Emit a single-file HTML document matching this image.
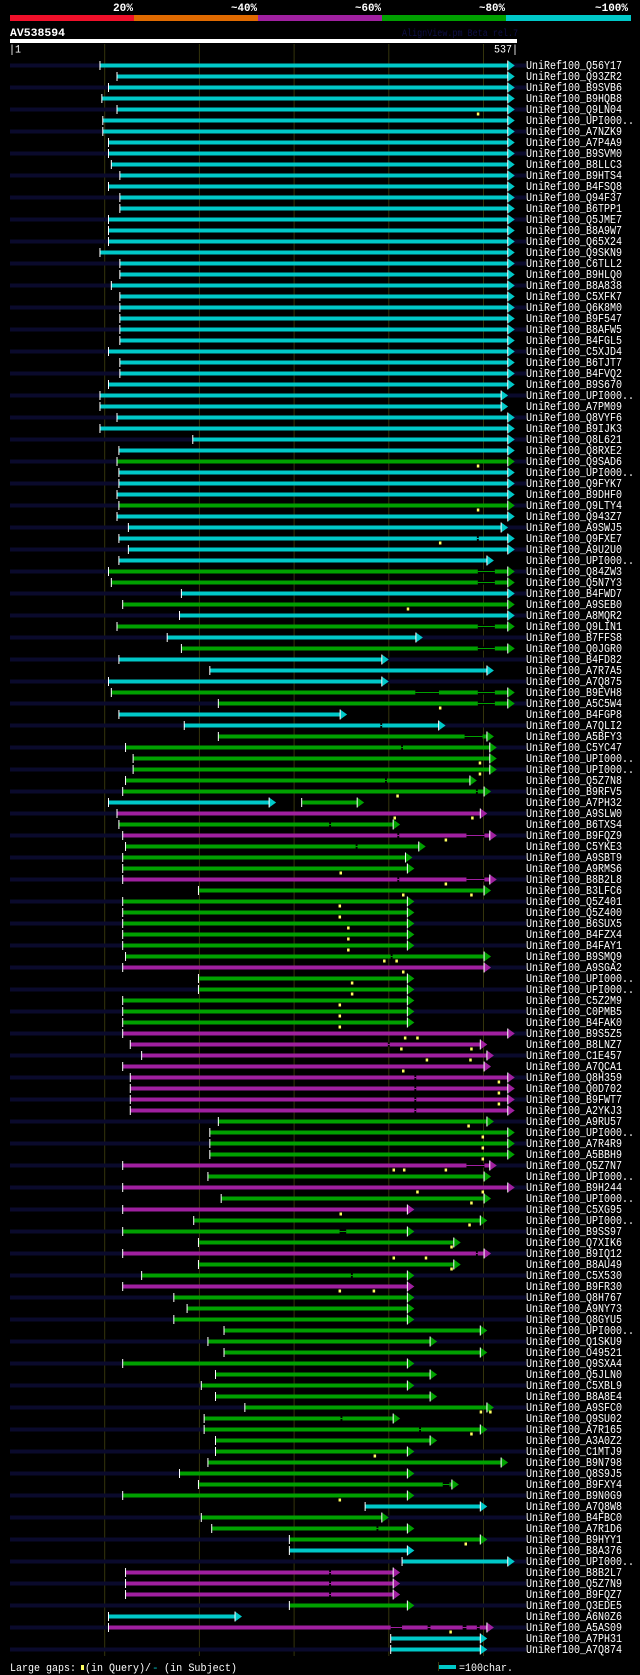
<!DOCTYPE html>
<html><head><meta charset="utf-8"><style>
html,body{margin:0;padding:0;background:#000;}
svg{display:block;}
text{font-family:"Liberation Mono",monospace;fill:#fff;}
</style></head><body>
<svg id="chart" width="640" height="1675" viewBox="0 0 640 1675" xmlns="http://www.w3.org/2000/svg">
<rect x="0" y="0" width="640" height="1675" fill="#000"/>
<g>
<rect x="10" y="15" width="124" height="6" fill="#f0102a"/>
<rect x="134" y="15" width="124" height="6" fill="#e06a00"/>
<rect x="258" y="15" width="124" height="6" fill="#a020a0"/>
<rect x="382" y="15" width="124" height="6" fill="#00a000"/>
<rect x="506" y="15" width="125" height="6" fill="#00c8c8"/>
<text x="113" y="11" font-size="11" font-weight="bold" textLength="20" lengthAdjust="spacingAndGlyphs">20%</text>
<text x="231" y="11" font-size="11" font-weight="bold" textLength="26" lengthAdjust="spacingAndGlyphs">~40%</text>
<text x="355" y="11" font-size="11" font-weight="bold" textLength="26" lengthAdjust="spacingAndGlyphs">~60%</text>
<text x="479" y="11" font-size="11" font-weight="bold" textLength="26" lengthAdjust="spacingAndGlyphs">~80%</text>
<text x="595" y="11" font-size="11" font-weight="bold" textLength="33" lengthAdjust="spacingAndGlyphs">~100%</text>
</g>
<text x="10" y="36" font-size="11" font-weight="bold" textLength="55" lengthAdjust="spacingAndGlyphs">AV538594</text>
<text x="402" y="36" font-size="10" style="fill:#101048" textLength="116" lengthAdjust="spacingAndGlyphs">AlignView.pm Beta rel.7</text>
<rect x="10" y="39" width="507" height="4" fill="#fff"/>
<text x="9" y="52.5" font-size="11" textLength="12" lengthAdjust="spacingAndGlyphs">|1</text>
<text x="494" y="52.5" font-size="11" textLength="24" lengthAdjust="spacingAndGlyphs">537|</text>
<g id="grid"></g>
<g id="rows"></g>
<g>
<text x="10" y="1671" font-size="11" textLength="66" lengthAdjust="spacingAndGlyphs">Large gaps:</text>
<rect x="81" y="1665" width="3" height="5" fill="#ffff60"/>
<text x="85" y="1671" font-size="11" textLength="66" lengthAdjust="spacingAndGlyphs">(in Query)/</text>
<text x="152" y="1671" font-size="11" style="fill:#00c8c8">-</text>
<text x="164" y="1671" font-size="11" textLength="73" lengthAdjust="spacingAndGlyphs">(in Subject)</text>
<rect x="438" y="1662" width="1" height="9" fill="#3a3a10"/>
<rect x="439" y="1665" width="17" height="4" fill="#00c8c8"/>
<text x="459" y="1671" font-size="11" textLength="54" lengthAdjust="spacingAndGlyphs">=100char.</text>
</g>
</svg>
<script>
const gridTicks=[100,200,300,400,500];
const labels=["Q56Y17","Q93ZR2","B9SVB6","B9HQB8","Q9LN04","UPI000..","A7NZK9","A7P4A9","B9SVM0","B8LLC3",
"B9HTS4","B4FSQ8","Q94F37","B6TPP1","Q5JME7","B8A9W7","Q65X24","Q9SKN9","C6TLL2","B9HLQ0",
"B8A838","C5XFK7","Q6K8M0","B9F547","B8AFW5","B4FGL5","C5XJD4","B6TJT7","B4FVQ2","B9S670",
"UPI000..","A7PM09","Q8VYF6","B9IJK3","Q8L621","Q8RXE2","Q9SAD6","UPI000..","Q9FYK7","B9DHF0",
"Q9LTY4","Q943Z7","A9SWJ5","Q9FXE7","A9U2U0","UPI000..","Q84ZW3","Q5N7Y3","B4FWD7","A9SEB0",
"A8MQR2","Q9LIN1","B7FFS8","Q0JGR0","B4FD82","A7R7A5","A7Q875","B9EVH8","A5C5W4","B4FGP8",
"A7QLI2","A5BFY3","C5YC47","UPI000..","UPI000..","Q5Z7N8","B9RFV5","A7PH32","A9SLW0","B6TXS4",
"B9FQZ9","C5YKE3","A9SBT9","A9RMS6","B8B2L8","B3LFC6","Q5Z401","Q5Z400","B6SUX5","B4FZX4",
"B4FAY1","B9SMQ9","A9SGA2","UPI000..","UPI000..","C5Z2M9","C0PMB5","B4FAK0","B9S5Z5","B8LNZ7",
"C1E457","A7QCA1","Q8H359","Q0D702","B9FWT7","A2YKJ3","A9RU57","UPI000..","A7R4R9","A5BBH9",
"Q5Z7N7","UPI000..","B9H244","UPI000..","C5XG95","UPI000..","B9SS97","Q7XIK6","B9IQ12","B8AU49",
"C5X530","B9FR30","Q8H767","A9NY73","Q8GYU5","UPI000..","Q1SKU9","O49521","Q9SXA4","Q5JLN0",
"C5XBL9","B8A8E4","A9SFC0","Q9SU02","A7R165","A3A0Z2","C1MTJ9","B9N798","Q8S9J5","B9FXY4",
"B9N0G9","A7Q8W8","B4FBC0","A7R1D6","B9HYY1","B8A376","UPI000..","B8B2L7","Q5Z7N9","B9FQZ7",
"Q3EDE5","A6N0Z6","A5AS09","A7PH31","A7Q874"];
const kinds=["c","c","c","c","c","c","c","c","c","c","c","c","c","c","c","c","c","c","c","c",
"c","c","c","c","c","c","c","c","c","c","c","c","c","c","c","c","g","c","c","c",
"g","c","c","c","c","c","g","g","c","g","c","g","c","g","c","c","c","g","g","c",
"c","g","g","g","g","g","g","c","m","g","m","g","g","g","m","g","g","g","g","g",
"g","g","m","g","g","g","g","g","m","m","m","m","m","m","m","m","g","g","g","g",
"m","g","m","g","m","g","g","g","m","g","g","m","g","g","g","g","g","g","g","g",
"g","g","g","g","g","g","g","g","g","g","g","c","g","g","g","c","c","m","m","m",
"g","c","m","c","c"];
const starts=[95,113,104,97,113,98,98,104,104,107,116,104,116,116,104,104,104,95,116,116,
107,116,116,116,116,116,104,116,116,104,95,95,113,95,193,115,113,115,115,113,
115,113,125,115,125,115,104,107,181,119,179,113,166,181,115,211,104,107,220,115,
184,220,122,130,130,122,119,104,113,115,119,122,119,119,119,199,119,119,119,119,
119,122,119,199,199,119,119,119,119,127,139,119,127,127,127,127,220,211,211,211,
119,209,119,223,119,194,119,199,119,199,139,119,173,187,173,226,209,226,119,217,
202,217,248,205,205,217,217,209,179,199,119,375,202,213,295,295,414,122,122,122,
295,104,104,402,402];
const ends=[533,533,533,533,533,533,533,533,533,533,533,533,533,533,533,533,533,533,533,533,
533,533,533,533,533,533,533,533,533,533,526,526,533,533,533,533,533,533,533,533,
533,533,526,533,533,511,533,533,533,533,533,533,436,533,400,511,400,533,533,356,
460,511,514,514,514,493,508,281,504,412,514,439,425,427,514,508,427,427,427,427,
427,508,508,427,427,427,427,427,533,504,511,508,533,533,533,533,511,533,533,533,
514,508,533,508,427,504,427,476,508,476,427,427,427,427,427,504,451,504,427,451,
427,451,511,412,504,451,427,526,427,474,427,504,400,427,504,427,533,412,412,412,
427,245,511,504,504];
// extra separate segment (row number -> [start,end,kind])
const extraSegments={68:[308,374,"g"]};
// gaps in subject: thin connector spans
const subjectGaps={44:[[493,495]],47:[[494,512]],48:[[494,512]],52:[[494,512]],54:[[494,512]],
58:[[428,453],[494,512]],59:[[494,512]],61:[[391,393]],62:[[480,499]],63:[[413,415]],
66:[[396,398]],67:[[492,494]],70:[[337,339]],71:[[409,411],[482,501]],72:[[365,367]],
75:[[409,411],[482,501]],82:[[402,404]],90:[[399,401]],93:[[427,429]],94:[[427,429]],
95:[[427,429]],96:[[427,429]],101:[[482,501]],107:[[348,355]],109:[[492,494]],111:[[360,362]],
124:[[349,351]],125:[[432,434]],130:[[457,464]],134:[[387,389]],138:[[337,339]],139:[[337,339]],
140:[[337,339]],143:[[402,414],[441,444],[478,482],[493,496]]};
// gaps in query: yellow markers
const queryGaps={5:[494],37:[494],41:[494],44:[454],50:[420],59:[454],64:[496],65:[496],67:[409],
69:[406,488],71:[460],74:[349],75:[460],76:[415,487],77:[348],78:[348],79:[357],80:[357],81:[357],
82:[395,408],83:[415],84:[361],85:[361],86:[348],87:[348],88:[348],89:[417,430],90:[413,487],
91:[440,486],92:[415],93:[516],94:[516],95:[516],97:[484],98:[499],99:[499],100:[499],
101:[405,416,460],103:[430,499],104:[487],105:[349],106:[485],108:[466],109:[405,439],110:[466],
112:[348,384],123:[497,507],125:[487],127:[385],131:[348],135:[481],143:[465]};

const NS="http://www.w3.org/2000/svg";
const colorOf={c:"#00c8c8",g:"#00a000",m:"#a020a0"};
const X0=10, PX=0.947, Y0=65.5, DY=11;
function xs(r){return X0+r*PX;}
function yr(i){return Y0+i*DY;}
function mk(tag,attrs,parent){const e=document.createElementNS(NS,tag);for(const k in attrs)e.setAttribute(k,attrs[k]);parent.appendChild(e);return e;}

const grid=document.getElementById('grid');
gridTicks.forEach(t=>{
  const l=mk('rect',{x:xs(t)-0.5,y:44,width:1,height:1612,fill:'#34340c'},grid);
  
  
});

const rows=document.getElementById('rows');
function drawSeg(g,s,e,col,gaps,y){
  const xa=xs(s), xt=xs(e), xb=xt-7;
  const bar=mk('rect',{x:xa,y:y-2,width:Math.max(0,xb-xa),height:4,fill:col},g);
  
  
  (gaps||[]).forEach(([a,b])=>{
    mk('rect',{x:xs(a),y:y-2,width:xs(b)-xs(a),height:4,fill:'#000'},g);
    mk('rect',{x:xs(a),y:y-0.5,width:xs(b)-xs(a),height:1,fill:col},g);
  });
  const tri=mk('polygon',{points:`${xb},${y-5} ${xt},${y} ${xb},${y+5}`,fill:col},g);
  
  
  mk('rect',{x:xb-0.5,y:y-5,width:1,height:10,fill:'#fff'},g);
  const tk=mk('rect',{x:xa-0.5,y:y-4.5,width:1,height:9,fill:'#fff'},g);
  
  
}
labels.forEach((lab,i)=>{
  const n=i+1, y=yr(i);
  const g=mk('g',{},rows);
  
  
  if(i%2===0){
    const bg=mk('rect',{x:10,y:y-2,width:516,height:4,fill:'#0a0a2c'},g);
    
    
  }
  drawSeg(g,starts[i],ends[i],colorOf[kinds[i]],subjectGaps[n],y);
  if(extraSegments[n]){const s=extraSegments[n];drawSeg(g,s[0],s[1],colorOf[s[2]],null,y);}
  (queryGaps[n]||[]).forEach(q=>{
    const m=mk('rect',{x:xs(q)-1,y:y+3,width:2.5,height:3,fill:'#ffff60'},g);
    
    
  });
  const full='UniRef100_'+lab;
  const t=mk('text',{x:526,y:y+3.5,'font-size':12,textLength:full.length*6,lengthAdjust:'spacingAndGlyphs'},g);
  t.textContent=full;
  
  
});
</script>
</body></html>
